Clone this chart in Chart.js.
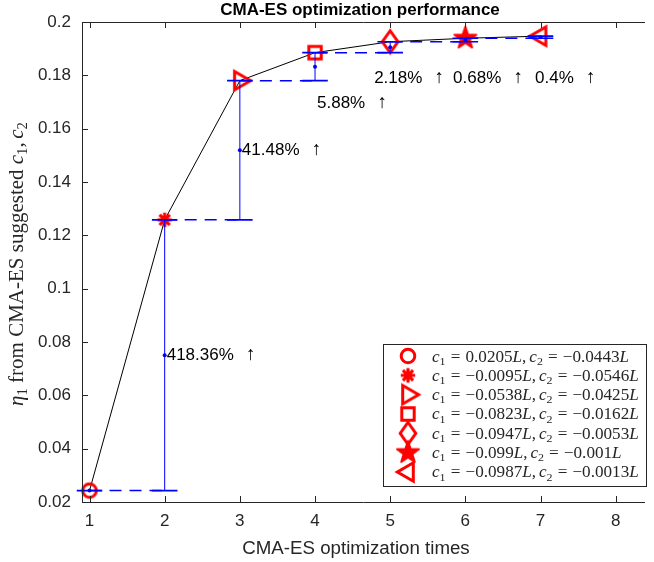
<!DOCTYPE html>
<html>
<head>
<meta charset="utf-8">
<script src="https://cdn.jsdelivr.net/npm/chart.js@4/dist/chart.umd.min.js"></script>
<style>
  html, body { margin: 0; padding: 0; background: #fff; }
</style>
</head>
<body>
<canvas id="chart" width="654" height="562"></canvas>
<script>
// optimization runs and the eta_1 reached with each suggested (c1, c2)
const runs = [1, 2, 3, 4, 5, 6, 7];
const eta = [0.02427, 0.1258, 0.178, 0.1885, 0.1926, 0.1939, 0.1947];
const c1Vals = ['0.0205', '-0.0095', '-0.0538', '-0.0823', '-0.0947', '-0.099', '-0.0987'];
const c2Vals = ['-0.0443', '-0.0546', '-0.0425', '-0.0162', '-0.0053', '-0.001', '-0.0013'];
const markerKinds = ['circle', 'asterisk', 'triRight', 'square', 'diamond', 'pentagram', 'triLeft'];

// relative improvement labels and where they sit
const gainText = ['418.36%', '41.48%', '5.88%', '2.18%', '0.68%', '0.4%'];
const gainX = [2, 3, 4, 4.76, 5.81, 6.9];
const gainY = [0.07504, 0.1519, 0.1696, 0.179, 0.179, 0.179];

const xTicks = [1, 2, 3, 4, 5, 6, 7, 8];
const yTicks = [0.02, 0.04, 0.06, 0.08, 0.1, 0.12, 0.14, 0.16, 0.18, 0.2];

const RED = '#ff0000';
const BLUE = '#0000ff';
const AXIS = '#262626';
const SANS = "'Liberation Sans', Arial, Helvetica, sans-serif";
const SERIF = "'Liberation Serif', 'DejaVu Serif', serif";
const capHalf = 0.17;

function makeMarker(kind) {
  const c = document.createElement('canvas');
  c.width = 40; c.height = 40;
  const g = c.getContext('2d');
  g.translate(20, 20);
  g.strokeStyle = RED; g.fillStyle = RED;
  g.lineWidth = 3; g.lineJoin = 'miter';
  g.beginPath();
  if (kind === 'circle') {
    g.arc(0, 0, 6.8, 0, Math.PI * 2);
    g.stroke();
  } else if (kind === 'asterisk') {
    for (let k = 0; k < 4; k++) {
      const a = k * Math.PI / 4, r = 7.2;
      g.moveTo(Math.cos(a) * r, Math.sin(a) * r);
      g.lineTo(-Math.cos(a) * r, -Math.sin(a) * r);
    }
    g.lineWidth = 3.2;
    g.stroke();
  } else if (kind === 'triRight' || kind === 'triLeft') {
    const s = kind === 'triRight' ? 1 : -1;
    g.moveTo(-5.3 * s, -9.2); g.lineTo(10.6 * s, 0); g.lineTo(-5.3 * s, 9.2);
    g.closePath(); g.stroke();
  } else if (kind === 'square') {
    g.rect(-6.2, -6.2, 12.4, 12.4);
    g.stroke();
  } else if (kind === 'diamond') {
    g.moveTo(0, -11); g.lineTo(7.8, 0); g.lineTo(0, 11); g.lineTo(-7.8, 0);
    g.closePath(); g.stroke();
  } else if (kind === 'pentagram') {
    for (let k = 0; k < 10; k++) {
      const r = k % 2 ? 4.6 : 11.5;
      const a = -Math.PI / 2 + k * Math.PI / 5;
      g.lineTo(Math.cos(a) * r, Math.sin(a) * r);
    }
    g.closePath();
    g.fill();
    g.lineWidth = 2; g.lineJoin = 'round';
    g.stroke();
  }
  return c;
}
const markers = markerKinds.map(makeMarker);

// error-bar style pieces between consecutive runs
const mids = runs.map((r, i) => ({ x: r, y: i ? (eta[i - 1] + eta[i]) / 2 : eta[0] }));
const stems = [], caps = [], dashes = [];
runs.forEach((r, i) => {
  const lo = i ? eta[i - 1] : eta[0];
  if (i) stems.push({ x: r, y: lo }, { x: r, y: eta[i] }, { x: r, y: null });
  [lo, eta[i]].forEach(v => caps.push({ x: r - capHalf, y: v }, { x: r + capHalf, y: v }, { x: r, y: null }));
  if (i < runs.length - 1) dashes.push({ x: r, y: eta[i] }, { x: runs[i + 1], y: eta[i] }, { x: r, y: null });
});

function mathText(ctx, parts, x, y, size, draw) {
  let cx = x;
  parts.forEach(p => {
    if (p.gap) { cx += p.gap * size; return; }
    let fs = size, dy = 0, style = '';
    if (p.st === 'it') style = 'italic ';
    if (p.st === 'sub') { fs = size * 0.7; dy = size * 0.2; }
    ctx.font = style + fs + 'px ' + SERIF;
    if (draw) ctx.fillText(p.t, cx, y + dy);
    cx += ctx.measureText(p.t).width;
  });
  return cx - x;
}

function legendParts(i) {
  const num = s => s.replace('-', '\u2212');
  return [
    { t: 'c', st: 'it' }, { t: '1', st: 'sub' }, { gap: 0.3 }, { t: '=' }, { gap: 0.3 },
    { t: num(c1Vals[i]) }, { t: 'L', st: 'it' }, { t: ',' }, { gap: 0.17 },
    { t: 'c', st: 'it' }, { t: '2', st: 'sub' }, { gap: 0.3 }, { t: '=' }, { gap: 0.3 },
    { t: num(c2Vals[i]) }, { t: 'L', st: 'it' }
  ];
}

const decorations = {
  id: 'decorations',
  afterDatasetsDraw(chart) {
    const { ctx, chartArea: a, scales: { x, y } } = chart;
    ctx.save();

    // axis box with inward ticks
    ctx.strokeStyle = AXIS; ctx.lineWidth = 1;
    ctx.beginPath();
    ctx.moveTo(a.left + 0.5, a.top + 0.5); ctx.lineTo(a.left + 0.5, a.bottom + 0.5);
    ctx.moveTo(a.left, a.bottom + 0.5); ctx.lineTo(a.right, a.bottom + 0.5);
    ctx.moveTo(a.left, a.top + 0.5); ctx.lineTo(a.right, a.top + 0.5);
    xTicks.forEach(v => {
      const px = Math.round(x.getPixelForValue(v)) + 0.5;
      ctx.moveTo(px, a.bottom); ctx.lineTo(px, a.bottom - 6);
      ctx.moveTo(px, a.top); ctx.lineTo(px, a.top + 6);
    });
    yTicks.forEach(v => {
      const py = Math.round(y.getPixelForValue(v)) + 0.5;
      ctx.moveTo(a.left, py); ctx.lineTo(a.left + 6, py);
    });
    ctx.stroke();

    // title and x label
    ctx.fillStyle = '#000';
    ctx.textAlign = 'center'; ctx.textBaseline = 'alphabetic';
    ctx.font = 'bold 17px ' + SANS;
    ctx.fillText('CMA-ES optimization performance', 360, 15);
    ctx.fillStyle = AXIS;
    ctx.font = '18.7px ' + SANS;
    ctx.fillText('CMA-ES optimization times', 356, 554);

    // y label with math parts
    const yParts = [
      { t: '\u03b7', st: 'it' }, { t: '1', st: 'sub' }, { t: ' from CMA-ES suggested ' },
      { t: 'c', st: 'it' }, { t: '1', st: 'sub' }, { t: ',' }, { gap: 0.17 },
      { t: 'c', st: 'it' }, { t: '2', st: 'sub' }
    ];
    ctx.save();
    ctx.translate(23, 264);
    ctx.rotate(-Math.PI / 2);
    ctx.textAlign = 'left';
    const yw = mathText(ctx, yParts, 0, 0, 21, false);
    mathText(ctx, yParts, -yw / 2, 0, 21, true);
    ctx.restore();

    // improvement labels
    ctx.fillStyle = '#000';
    ctx.textBaseline = 'middle';
    gainText.forEach((t, i) => {
      const px = x.getPixelForValue(gainX[i]) + 2;
      const py = y.getPixelForValue(gainY[i]);
      ctx.textAlign = 'left';
      ctx.font = '17px ' + SANS;
      ctx.fillText(t, px, py);
      const end = px + ctx.measureText(t).width;
      ctx.textAlign = 'center';
      ctx.font = '19px ' + SERIF;
      ctx.fillText('\u2191', end + 17, py);
    });

    // legend
    const L = { x: 383, y: 344, w: 263, h: 142 };
    ctx.fillStyle = '#fff';
    ctx.fillRect(L.x, L.y, L.w, L.h);
    ctx.strokeStyle = AXIS;
    ctx.strokeRect(L.x + 0.5, L.y + 0.5, L.w, L.h);
    ctx.fillStyle = AXIS;
    ctx.textAlign = 'left';
    ctx.textBaseline = 'alphabetic';
    runs.forEach((r, i) => {
      const cy = 356 + i * 19.33;
      const m = markers[i];
      ctx.drawImage(m, 408 - m.width / 2, cy - m.height / 2);
      ctx.save();
      ctx.translate(432, cy + 5.5);
      ctx.scale(1.07, 1);
      mathText(ctx, legendParts(i), 0, 0, 16, true);
      ctx.restore();
    });
    ctx.restore();
  }
};

new Chart(document.getElementById('chart'), {
  type: 'scatter',
  data: {
    datasets: [
      { data: mids, pointRadius: 2, pointBackgroundColor: BLUE, pointBorderWidth: 0, clip: false },
      { data: caps, showLine: true, borderColor: BLUE, borderWidth: 1.6, pointRadius: 0, clip: false },
      { data: stems, showLine: true, borderColor: BLUE, borderWidth: 1, pointRadius: 0, clip: false },
      { data: dashes, showLine: true, borderColor: BLUE, borderWidth: 1.5, borderDash: [12, 8], pointRadius: 0, clip: false },
      {
        data: runs.map((r, i) => ({ x: r, y: eta[i] })),
        showLine: true, borderColor: '#000', borderWidth: 1,
        pointStyle: markers, pointRadius: 8, clip: false
      }
    ]
  },
  options: {
    responsive: false,
    devicePixelRatio: 1,
    animation: false,
    events: [],
    layout: { padding: { top: 22, left: 0, right: 0, bottom: 0 } },
    plugins: { legend: { display: false }, tooltip: { enabled: false } },
    scales: {
      x: {
        type: 'linear', min: 0.9, max: 8.39,
        afterBuildTicks: s => { s.ticks = xTicks.map(v => ({ value: v })); },
        afterFit: s => { s.height = 60; },
        grid: { display: false, drawTicks: false },
        border: { display: false },
        ticks: { font: { size: 17, family: SANS }, color: AXIS, padding: 9, maxRotation: 0, autoSkip: false }
      },
      y: {
        type: 'linear', min: 0.02, max: 0.2,
        afterBuildTicks: s => { s.ticks = yTicks.map(v => ({ value: v })); },
        afterFit: s => { s.width = 82; },
        grid: { display: false, drawTicks: false },
        border: { display: false },
        ticks: {
          font: { size: 17, family: SANS }, color: AXIS, padding: 11,
          callback: v => String(+v.toFixed(2))
        }
      }
    }
  },
  plugins: [decorations]
});
</script>
</body>
</html>
